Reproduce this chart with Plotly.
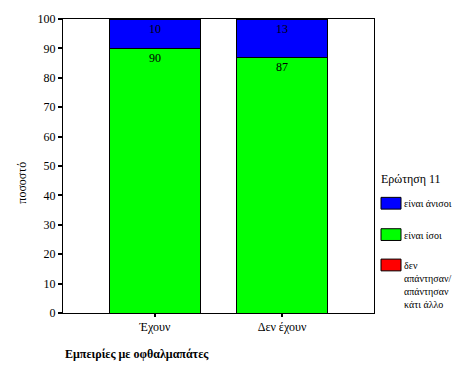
import plotly.graph_objects as go

categories = ["Έχουν", "Δεν έχουν"]
equal_vals = [90, 87]      # είναι ίσοι
unequal_vals = [10, 13]    # είναι άνισοι
other_vals = [0, 0]        # δεν απάντησαν / απάντησαν κάτι άλλο
y_ticks = [0, 10, 20, 30, 40, 50, 60, 70, 80, 90, 100]

legend_title = "Ερώτηση 11"
legend_labels = ["είναι άνισοι", "είναι ίσοι", "δεν<br>απάντησαν/<br>απάντησαν<br>κάτι άλλο"]
legend_colors = ["#0000ff", "#00ff00", "#ff0000"]

FONT = "Liberation Serif"

fig = go.Figure()
fig.add_trace(go.Bar(x=categories, y=other_vals, marker=dict(color="#ff0000", line=dict(width=0)),
                     showlegend=False, hoverinfo="skip"))
fig.add_trace(go.Bar(x=categories, y=equal_vals, marker=dict(color="#00ff00", line=dict(color="black", width=1)),
                     text=[str(v) for v in equal_vals], textposition="inside", insidetextanchor="end",
                     textfont=dict(color="black", size=12, family=FONT), showlegend=False))
fig.add_trace(go.Bar(x=categories, y=unequal_vals, marker=dict(color="#0000ff", line=dict(color="black", width=1)),
                     text=[str(v) for v in unequal_vals], textposition="inside", insidetextanchor="end",
                     textfont=dict(color="black", size=12, family=FONT), showlegend=False))

L, R, T, B = 63, 374, 13, 313
W, H = R - L, B - T

def px(x):
    return (x - L) / W

def py(y):
    return (B - y) / H

shapes = []
annotations = []
box_tops = [195, 227, 258]
for i, (lab, col) in enumerate(zip(legend_labels, legend_colors)):
    t = box_tops[i]
    shapes.append(dict(type="rect", xref="paper", yref="paper",
                       x0=px(381), x1=px(401), y0=py(t + 12), y1=py(t),
                       fillcolor=col, line=dict(color="black", width=1)))
    annotations.append(dict(xref="paper", yref="paper", x=px(402), y=py(t - 1),
                            xanchor="left", yanchor="top", align="left", showarrow=False,
                            text=lab, font=dict(family=FONT, size=10, color="black")))
annotations.append(dict(xref="paper", yref="paper", x=px(379), y=py(176),
                        xanchor="left", yanchor="middle", showarrow=False,
                        text=legend_title, font=dict(family=FONT, size=12, color="black")))
annotations.append(dict(xref="paper", yref="paper", x=px(63), y=py(355),
                        xanchor="left", yanchor="middle", showarrow=False,
                        text="<b>Εμπειρίες με οφθαλμαπάτες</b>", font=dict(family=FONT, size=12, color="black")))
annotations.append(dict(xref="paper", yref="paper", x=px(22), y=py(180),
                        xanchor="center", yanchor="middle", showarrow=False, textangle=-90,
                        text="ποσοστό", font=dict(family=FONT, size=12, color="black")))

fig.update_layout(
    barmode="stack",
    bargap=0.29,
    width=466, height=385,
    margin=dict(l=L, r=466 - R, t=T, b=385 - B),
    paper_bgcolor="white", plot_bgcolor="white",
    font=dict(family=FONT, size=12, color="black"),
    showlegend=False,
    shapes=shapes,
    annotations=annotations,
    xaxis=dict(range=[-0.724, 1.724], showline=True, linecolor="black", linewidth=1, mirror=True,
               ticks="outside", ticklen=3, tickwidth=2, tickcolor="black", showgrid=False,
               tickfont=dict(family=FONT, size=12)),
    yaxis=dict(range=[0, 100], tickvals=y_ticks, showline=True, linecolor="black", linewidth=1, mirror=True,
               ticks="outside", ticklen=4, tickwidth=2, tickcolor="black", showgrid=False, zeroline=False,
               tickfont=dict(family=FONT, size=12)),
)

fig.write_html("out.html", config={"displayModeBar": False})

with open("out.html", "r", encoding="utf-8") as f:
    html = f.read()
html = html.replace("<head>", "<head><style>html,body{margin:0;padding:0;overflow:hidden}</style>", 1)
with open("out.html", "w", encoding="utf-8") as f:
    f.write(html)
